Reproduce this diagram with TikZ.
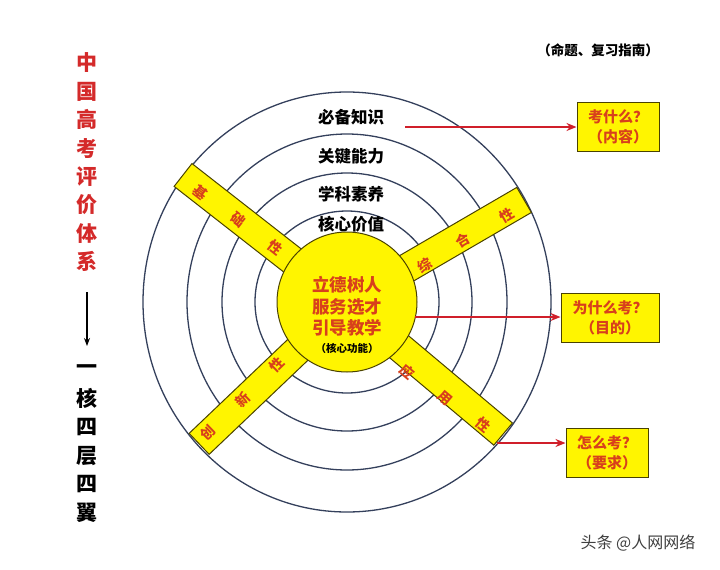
\documentclass[tikz,border=0pt]{standalone}
\usepackage{fontspec}
\setmainfont{Noto Sans CJK SC}
\usetikzlibrary{arrows.meta}
\definecolor{ringc}{HTML}{34405C}
\definecolor{yel}{HTML}{FFF500}
\definecolor{ybord}{HTML}{4A4200}
\definecolor{ored}{HTML}{D8401C}
\definecolor{tred}{HTML}{D42A2A}
\definecolor{arrc}{HTML}{D01F2A}
\begin{document}
\begin{tikzpicture}[x=1pt,y=-1pt,
  ringline/.style={draw=ringc, line width=1.3pt},
  barbox/.style={draw=ybord, fill=yel, line width=1pt, minimum height=29pt, inner sep=0pt, rectangle},
  barchar/.style={text=ored, font=\bfseries\fontsize{14}{14}\selectfont, inner sep=0pt},
  coretext/.style={text=ored, font=\bfseries\fontsize{17.5}{17.5}\selectfont, inner sep=0pt},
  layertext/.style={text=black, font=\bfseries\fontsize{16.5}{16.5}\selectfont, inner sep=0pt},
  qbox/.style={draw=ybord, fill=yel, line width=1pt, inner sep=0pt, text=ored, align=center, font=\bfseries\fontsize{15}{20}\selectfont},
  redarrow/.style={draw=arrc, line width=1.4pt, -{Stealth[length=10pt,width=8pt]}},
  titlechar/.style={text=tred, font=\bfseries\fontsize{21}{21}\selectfont, inner sep=0pt},
  sumchar/.style={text=black, font=\bfseries\fontsize{21}{21}\selectfont, inner sep=0pt}
]
\useasboundingbox (0,0) rectangle (720,570);
\fill[white] (0,0) rectangle (720,570);

% rings
\draw[ringline] (347,302) ellipse [x radius=204pt, y radius=210pt];
\draw[ringline] (347,302) ellipse [x radius=160pt, y radius=168pt];
\draw[ringline] (347,302) ellipse [x radius=125pt, y radius=129pt];
\draw[ringline] (347,302) ellipse [x radius=92pt, y radius=91pt];

% wings
\node[barbox, minimum width=208pt, rotate=-38] (wUL) at (265,239) {};
\node[barbox, minimum width=205pt, rotate=30.2] (wUR) at (435.5,251.5) {};
\node[barbox, minimum width=204pt, rotate=43.6] (wLL) at (273,373.5) {};
\node[barbox, minimum width=204pt, rotate=-40] (wLR) at (425,368.5) {};

% core
\node[circle, minimum size=140pt, inner sep=0pt, fill=yel, draw=ybord, line width=1pt] (core) at (347,302) {};

% wing characters
\node[barchar, rotate=-38] (ul1) at (200,192) {基};
\node[barchar, rotate=-38] (ul2) at (238,220) {础};
\node[barchar, rotate=-38] (ul3) at (275,248) {性};
\node[barchar, rotate=30] (ur1) at (425,265) {综};
\node[barchar, rotate=30] (ur2) at (463,240) {合};
\node[barchar, rotate=30] (ur3) at (507,215) {性};
\node[barchar, rotate=44] (ll1) at (208,433) {创};
\node[barchar, rotate=44] (ll2) at (243,400) {新};
\node[barchar, rotate=44] (ll3) at (277,365) {性};
\node[barchar, rotate=-40] (lr1) at (407,372) {应};
\node[barchar, rotate=-40] (lr2) at (445,398) {用};
\node[barchar, rotate=-40] (lr3) at (483,425) {性};

% core text
\node[coretext] (c1) at (347,285) {立德树人};
\node[coretext] (c2) at (347,307) {服务选才};
\node[coretext] (c3) at (347,328) {引导教学};
\node[text=black, font=\bfseries\fontsize{10.5}{10.5}\selectfont, inner sep=0pt] (c4) at (347,348) {（核心功能）};

% layer labels
\node[layertext] (l1) at (351,117) {必备知识};
\node[layertext] (l2) at (351,156) {关键能力};
\node[layertext] (l3) at (351,194) {学科素养};
\node[layertext] (l4) at (351,224) {核心价值};

% question boxes
\node[qbox, minimum width=82pt, minimum height=49pt] (q1) at (618,126.5) {考什么？\\（内容）};
\node[qbox, minimum width=98pt, minimum height=49pt] (q2) at (610,317.5) {为什么考？\\（目的）};
\node[qbox, minimum width=82pt, minimum height=49pt] (q3) at (607,452.5) {怎么考？\\（要求）};

% arrows
\coordinate (a1) at (405,127);
\coordinate (a2) at (415,317);
\coordinate (a3) at (497,443);
\draw[redarrow] (a1) -- (a1 -| q1.west);
\draw[redarrow] (a2) -- (a2 -| q2.west);
\draw[redarrow] (a3) -- (a3 -| q3.west);

% top-right note
\node[text=black, font=\bfseries\fontsize{13.5}{13.5}\selectfont, inner sep=0pt] (note) at (598,50) {（命题、复习指南）};

% left title
\foreach \ch [count=\i] in {中,国,高,考,评,价,体,系} {
  \node[titlechar] (t\i) at (87,{63+28.4*(\i-1)}) {\ch};
}
\coordinate (ta) at (87,292);
\coordinate (tb) at (87,346);
\draw[line width=1.3pt, -{Stealth[length=8pt,width=6pt]}] (ta) -- (tb);
\foreach \ch [count=\i] in {一,核,四,层,四,翼} {
  \node[sumchar] (s\i) at (87,{370+28.6*(\i-1)}) {\ch};
}

% watermark
\node[text=black!75, font=\fontsize{16}{16}\selectfont, inner sep=0pt] (wm) at (638,543) {头条 @人网网络};
\end{tikzpicture}
\end{document}
